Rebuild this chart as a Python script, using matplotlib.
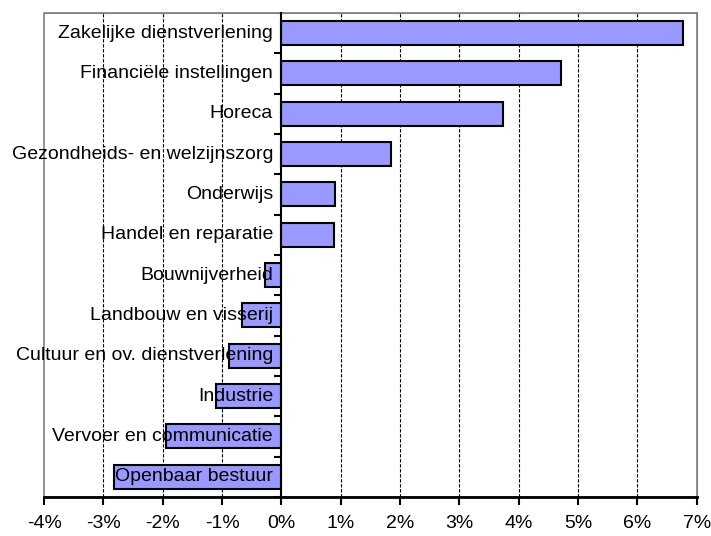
import numpy as np
from matplotlib import pyplot as plt
from matplotlib.patches import Rectangle
import matplotlib
matplotlib.rcParams['font.family'] = ['Liberation Sans', 'DejaVu Sans']
matplotlib.rcParams['axes.unicode_minus'] = False

# sectoren en mutatie (%)
sectoren = ['Zakelijke dienstverlening', 'Financiële instellingen', 'Horeca',
            'Gezondheids- en welzijnszorg', 'Onderwijs', 'Handel en reparatie',
            'Bouwnijverheid', 'Landbouw en visserij', 'Cultuur en ov. dienstverlening',
            'Industrie', 'Vervoer en communicatie', 'Openbaar bestuur']
waarden = [6.77, 4.71, 3.74, 1.85, 0.91, 0.88, -0.27, -0.67, -0.88, -1.11, -1.95, -2.83]
xticks = [-4, -3, -2, -1, 0, 1, 2, 3, 4, 5, 6, 7]
xtick_labels = ['%d%%' % t for t in xticks]

fig = plt.figure(figsize=(7.11, 5.36), dpi=100)
ax = fig.add_axes([0.062, 0.073, 0.918, 0.903])

pos = np.arange(len(sectoren))
ax.barh(pos, waarden, height=0.6, color='#9999FF', edgecolor='black', linewidth=1.5, zorder=2)

# rasterlijnen
for t in xticks:
    if t not in (-4, 0, 7):
        ax.axvline(t, color='black', linestyle=(0, (3, 1.5)), linewidth=0.8, zorder=1)

# labels naast de as
for i, s in enumerate(sectoren):
    ax.text(-0.14, i, s, ha='right', va='center', fontsize=14, zorder=5)

ax.set_xlim(-4, 7)
ax.set_ylim(len(sectoren) - 0.5, -0.5)
ax.set_xticks(xticks)
ax.set_xticklabels(xtick_labels, fontsize=14)
ax.tick_params(axis='x', direction='out', length=6, width=1.5, pad=7)

ax.set_yticks([])
ax.set_yticks(np.arange(len(sectoren)) + 0.5, minor=True)
ax.tick_params(axis='y', which='minor', direction='out', length=5, width=1.5)
ax.spines['left'].set_position(('data', 0))
ax.spines['left'].set_linewidth(1.5)
ax.spines['left'].set_zorder(3)
ax.spines['bottom'].set_linewidth(2)
ax.spines['bottom'].set_zorder(3)
for s in ['top', 'right']:
    ax.spines[s].set_color('gray')
ax.add_patch(Rectangle((0, 0), 1, 1, transform=ax.transAxes, fill=False,
                       edgecolor='gray', linewidth=1.2, zorder=0.5, clip_on=False))

plt.savefig('out.png', dpi=100)
